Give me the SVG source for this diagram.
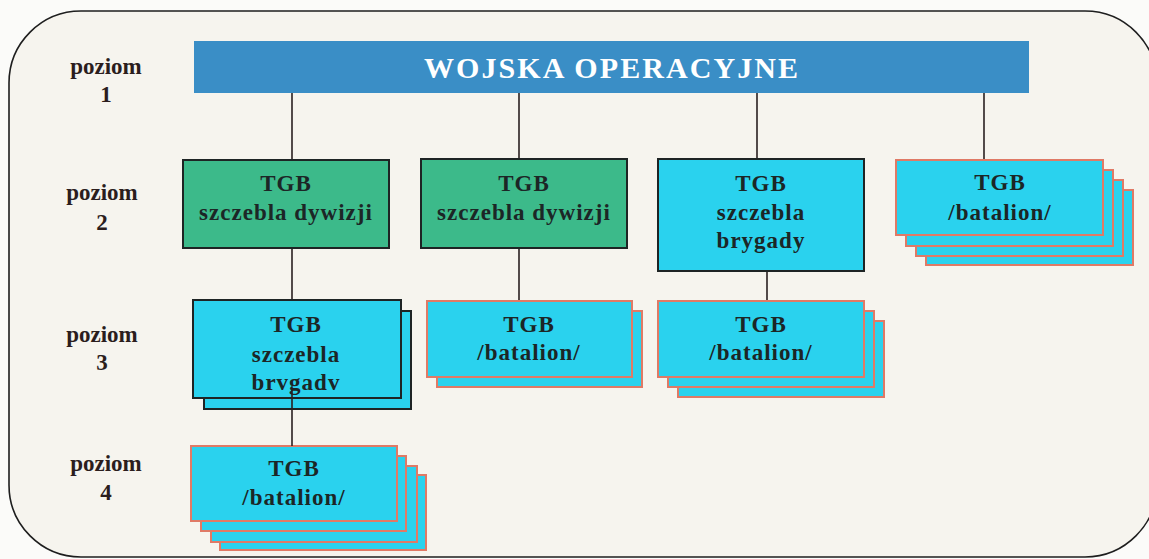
<svg xmlns="http://www.w3.org/2000/svg" width="1149" height="559" viewBox="0 0 1149 559">
<style>
.lbl{font-family:"Liberation Serif","Times New Roman",serif;font-weight:bold;font-size:23px;fill:#2b1d1d;text-anchor:middle}
.t{font-family:"Liberation Serif","Times New Roman",serif;font-weight:bold;font-size:23px;fill:#1c2626;text-anchor:middle;letter-spacing:1px}
.cy{fill:#2ad2ee;stroke:#e07a66;stroke-width:2}
.cyd{fill:#2ad2ee;stroke:#1e2424;stroke-width:2}
.gr{fill:#3cba8a;stroke:#1e2424;stroke-width:2}
.ln{stroke:#2a2020;stroke-width:1.6;fill:none}
</style>
<rect x="0" y="0" width="1149" height="559" fill="#fbfbf9"/>
<rect id="frame" x="9" y="11" width="1148" height="546" rx="72" ry="72" fill="#f6f4ee" stroke="#1e1e1e" stroke-width="1.6"/>
<g id="levels">
<text class="lbl" x="106" y="74">poziom</text><text class="lbl" x="106" y="102">1</text>
<text class="lbl" x="102" y="200">poziom</text><text class="lbl" x="102" y="230">2</text>
<text class="lbl" x="102" y="342">poziom</text><text class="lbl" x="102" y="370">3</text>
<text class="lbl" x="106" y="471">poziom</text><text class="lbl" x="106" y="500">4</text>
</g>
<g id="connectors">
<line class="ln" x1="292" y1="93" x2="292" y2="160"/>
<line class="ln" x1="519" y1="93" x2="519" y2="159"/>
<line class="ln" x1="757" y1="93" x2="757" y2="159"/>
<line class="ln" x1="984" y1="93" x2="984" y2="160"/>
<line class="ln" x1="292" y1="248" x2="292" y2="300"/>
<line class="ln" x1="519" y1="248" x2="519" y2="301"/>
<line class="ln" x1="767" y1="271" x2="767" y2="301"/>
</g>
<g id="wojska">
<rect x="194" y="41" width="835" height="52" fill="#3a8ec6"/>
<text x="611" y="78" font-family="Liberation Serif,Times New Roman,serif" font-weight="bold" font-size="30" fill="#ffffff" text-anchor="middle" textLength="374" lengthAdjust="spacing">WOJSKA OPERACYJNE</text>
</g>
<g id="tgb-dyw-1">
<rect class="gr" x="183" y="160" width="206" height="88"/>
<text class="t" x="286" y="191">TGB</text>
<text class="t" x="286" y="220">szczebla dywizji</text>
</g>
<g id="tgb-dyw-2">
<rect class="gr" x="421" y="159" width="206" height="89"/>
<text class="t" x="524" y="191">TGB</text>
<text class="t" x="524" y="220">szczebla dywizji</text>
</g>
<g id="tgb-bryg-2">
<rect class="cyd" x="658" y="159" width="206" height="112"/>
<text class="t" x="761" y="191">TGB</text>
<text class="t" x="761" y="220">szczebla</text>
<text class="t" x="761" y="248">brygady</text>
</g>
<g id="tgb-bat-2">
<rect class="cy" x="926" y="190" width="207" height="75"/>
<rect class="cy" x="916" y="180" width="207" height="76"/>
<rect class="cy" x="906" y="170" width="207" height="76"/>
<rect class="cy" x="896" y="160" width="207" height="75"/>
<text class="t" x="1000" y="190">TGB</text>
<text class="t" x="1000" y="220">/batalion/</text>
</g>
<g id="tgb-bryg-3">
<rect class="cyd" x="204" y="311" width="207" height="98"/>
<rect class="cyd" x="193" y="300" width="208" height="98"/>
<text class="t" x="296" y="332">TGB</text>
<text class="t" x="296" y="362">szczebla</text>
<text class="t" x="296" y="390">brvgadv</text>
</g>
<g id="tgb-bat-3a">
<rect class="cy" x="437" y="311" width="205" height="76"/>
<rect class="cy" x="427" y="301" width="205" height="76"/>
<text class="t" x="529" y="332">TGB</text>
<text class="t" x="529" y="360">/batalion/</text>
</g>
<g id="tgb-bat-3b">
<rect class="cy" x="678" y="321" width="206" height="76"/>
<rect class="cy" x="668" y="311" width="206" height="76"/>
<rect class="cy" x="658" y="301" width="206" height="76"/>
<text class="t" x="761" y="332">TGB</text>
<text class="t" x="761" y="360">/batalion/</text>
</g>
<g id="tgb-bat-4">
<rect class="cy" x="220" y="475" width="206" height="75"/>
<rect class="cy" x="211" y="466" width="206" height="76"/>
<rect class="cy" x="201" y="456" width="205" height="75"/>
<rect class="cy" x="191" y="446" width="206" height="75"/>
<text class="t" x="294" y="476">TGB</text>
<text class="t" x="294" y="505">/batalion/</text>
</g>
<g id="connector-3-4">
<line class="ln" x1="292" y1="388" x2="292" y2="446"/>
</g>
</svg>
